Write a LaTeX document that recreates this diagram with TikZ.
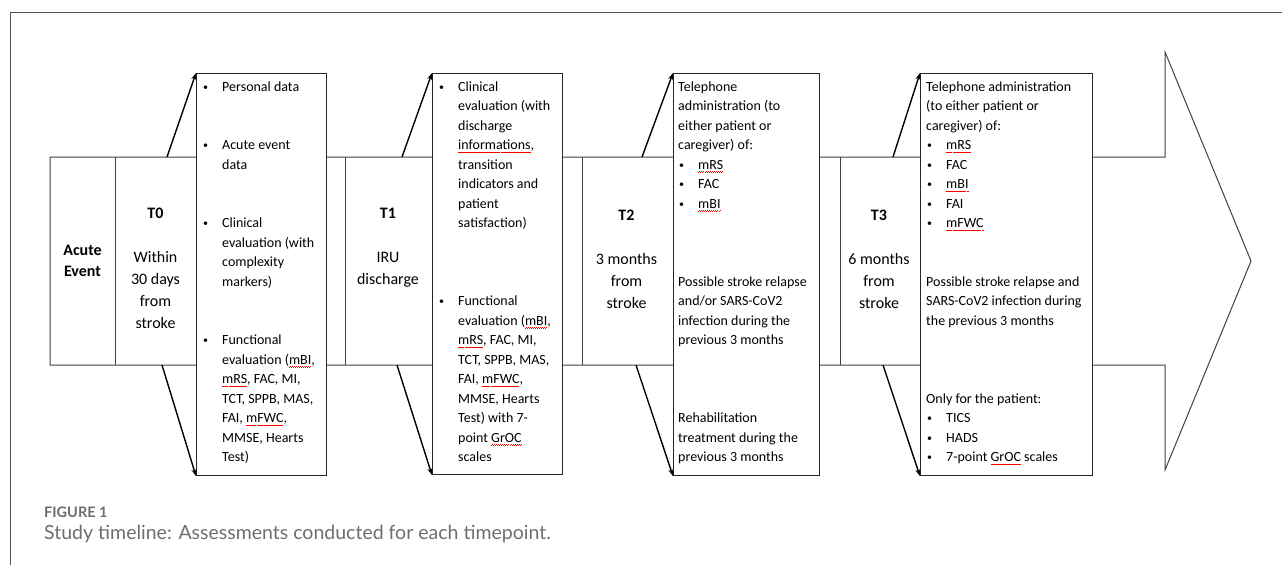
\documentclass[tikz,border=0pt]{standalone}
\usepackage{fontspec}
\setmainfont{Carlito}
\newfontfamily\capfont{Lato}
\usepackage{tikz}
\usetikzlibrary{arrows.meta}
\usetikzlibrary{positioning}
\definecolor{framegray}{HTML}{555555}
\definecolor{capgray}{HTML}{6E6E6E}
\newsavebox{\spellbox}
\newcommand{\spell}[1]{\sbox{\spellbox}{#1}\rlap{\color{red}\lower3pt\hbox to\wd\spellbox{\xleaders\hbox{\vrule width1pt height0.6pt\raise0.7pt\hbox{\vrule width1pt height0.6pt}}\hfil}}\usebox{\spellbox}}
\newcommand{\bul}{\makebox[20pt][l]{\hspace{1pt}\raisebox{1.2pt}{\fontsize{10}{10}\selectfont•}}}
\newcommand{\ind}{\hspace*{20pt}}
\tikzstyle{panel}=[draw=black!85, line width=1.1pt, fill=white, inner sep=0, anchor=north west]
\tikzstyle{paneltext}=[inner sep=0, anchor=north west, align=left, font=\fontsize{14}{19.5}\selectfont]
\tikzstyle{coltext}=[inner sep=0, anchor=north, align=center, font=\fontsize{16}{22}\selectfont]
\tikzstyle{link}=[line width=1.4pt, -{Stealth[length=7pt, width=5pt]}]

\begin{document}
\begin{tikzpicture}[x=1pt, y=-1pt]
    \useasboundingbox (0,0) rectangle (1282,565);
    \draw[framegray, line width=1pt] (10,565) -- (10,12) -- (1282,12);

    \draw[black!75, line width=1pt] (50,157) -- (1165,157) -- (1165,52) -- (1251,261)
        -- (1165,470) -- (1165,365) -- (50,365) -- cycle;
    \draw[black!75, line width=1pt] (115,157) -- (115,365);
    \draw[black!75, line width=1pt] (345,157) -- (345,365);
    \draw[black!75, line width=1pt] (582,157) -- (582,365);
    \draw[black!75, line width=1pt] (840,157) -- (840,365);

    \node[coltext, anchor=center, font=\fontsize{16}{21}\selectfont\bfseries] (ev) at (82.5,261) {Acute\\Event};
    \node[coltext] (c0) at (155.5,208) {\textbf{T0}\\[22pt]Within\\30 days\\from\\stroke};
    \node[coltext] (c1) at (388,208) {\textbf{T1}\\[22pt]IRU\\discharge};
    \node[coltext] (c2) at (626.5,210) {\textbf{T2}\\[22pt]3 months\\from\\stroke};
    \node[coltext] (c3) at (879,210) {\textbf{T3}\\[22pt]6 months\\from\\stroke};

    \node[panel, minimum width=130pt, minimum height=402pt] (b0) at (196,73) {};
    \node[panel, minimum width=130pt, minimum height=401pt] (b1) at (432,73) {};
    \node[panel, minimum width=146pt, minimum height=402pt] (b2) at (673,73) {};
    \node[panel, minimum width=172pt, minimum height=402pt] (b3) at (920,73) {};

    \coordinate (t0up) at (167,157);
    \coordinate (t0dn) at (162,365);
    \coordinate (t1up) at (402,157);
    \coordinate (t1dn) at (397,365);
    \coordinate (t2up) at (642,157);
    \coordinate (t2dn) at (636,365);
    \coordinate (t3up) at (893,157);
    \coordinate (t3dn) at (883,365);
    \draw[link] (t0up) -- (b0.north west);
    \draw[link] (t0dn) -- (b0.south west);
    \draw[link] (t1up) -- (b1.north west);
    \draw[link] (t1dn) -- (b1.south west);
    \draw[link] (t2up) -- (b2.north west);
    \draw[link] (t2dn) -- (b2.south west);
    \draw[link] (t3up) -- (b3.north west);
    \draw[link] (t3dn) -- (b3.south west);

    \node[paneltext, below right=8.5pt and 6pt of b0.north west] (x0) {%
        \bul Personal data\\[39pt]
        \bul Acute event\\
        \ind data\\[39pt]
        \bul Clinical\\
        \ind evaluation (with\\
        \ind complexity\\
        \ind markers)\\[39pt]
        \bul Functional\\
        \ind evaluation (\spell{mBI},\\
        \ind \spell{mRS}, FAC, MI,\\
        \ind TCT, SPPB, MAS,\\
        \ind FAI, \spell{mFWC},\\
        \ind MMSE, Hearts\\
        \ind Test)};
    \node[paneltext, below right=8.5pt and 6pt of b1.north west] (x1) {%
        \bul Clinical\\
        \ind evaluation (with\\
        \ind discharge\\
        \ind \spell{informations},\\
        \ind transition\\
        \ind indicators and\\
        \ind patient\\
        \ind satisfaction)\\[58.5pt]
        \bul Functional\\
        \ind evaluation (\spell{mBI},\\
        \ind \spell{mRS}, FAC, MI,\\
        \ind TCT, SPPB, MAS,\\
        \ind FAI, \spell{mFWC},\\
        \ind MMSE, Hearts\\
        \ind Test) with 7-\\
        \ind point \spell{GrOC}\\
        \ind scales};
    \node[paneltext, below right=8.5pt and 5pt of b2.north west] (x2) {%
        Telephone\\
        administration (to\\
        either patient or\\
        caregiver) of:\\
        \bul \spell{mRS}\\
        \bul FAC\\
        \bul \spell{mBI}\\[58.5pt]
        Possible stroke relapse\\
        and/or SARS-CoV2\\
        infection during the\\
        previous 3 months\\[58.5pt]
        Rehabilitation\\
        treatment during the\\
        previous 3 months};
    \node[paneltext, below right=8.5pt and 6pt of b3.north west] (x3) {%
        Telephone administration\\
        (to either patient or\\
        caregiver) of:\\
        \bul \spell{mRS}\\
        \bul FAC\\
        \bul \spell{mBI}\\
        \bul FAI\\
        \bul \spell{mFWC}\\[39pt]
        Possible stroke relapse and\\
        SARS-CoV2 infection during\\
        the previous 3 months\\[58.5pt]
        Only for the patient:\\
        \bul TICS\\
        \bul HADS\\
        \bul 7-point \spell{GrOC} scales};

    \node[anchor=base west, inner sep=0, text=capgray, font=\capfont\bfseries\fontsize{14.5}{16}\selectfont] (fig) at (44,517) {FIGURE 1};
    \node[anchor=base west, inner sep=0, text=capgray, font=\capfont\fontsize{19.5}{22}\selectfont] (cap) at (44,539) {Study timeline: Assessments conducted for each timepoint.};
\end{tikzpicture}
\end{document}
